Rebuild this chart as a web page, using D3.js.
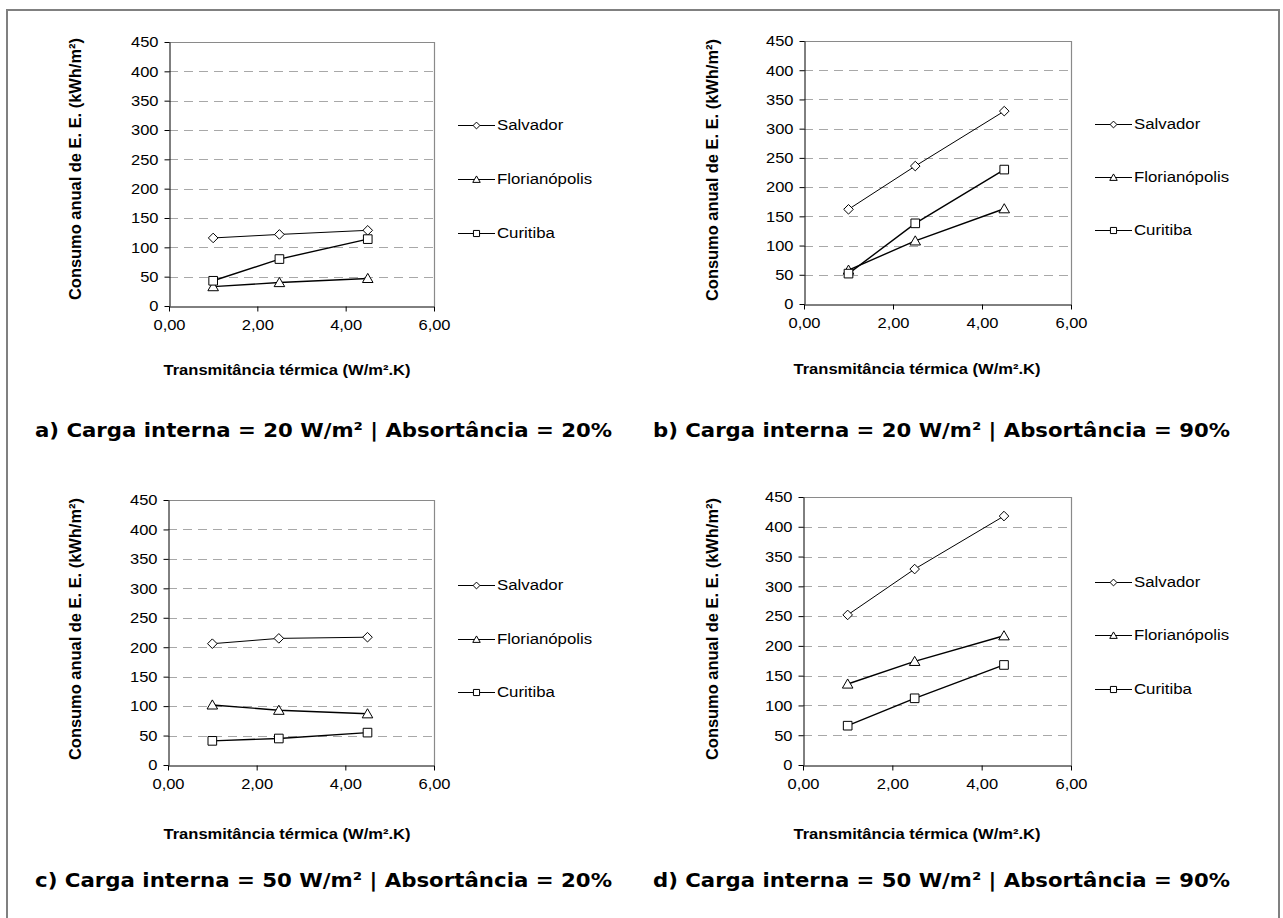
<!DOCTYPE html>
<html>
<head>
<meta charset="utf-8">
<script src="https://cdn.jsdelivr.net/npm/d3@7"></script>
<style>
  body { margin: 0; background: #fff; }
  svg { display: block; }
</style>
</head>
<body>
<svg id="fig" width="1283" height="918"></svg>
<script>
// ---- Data -------------------------------------------------------------
const transmitancia = [1.0, 2.5, 4.5];            // W/m².K
const cidades = ["Salvador", "Florianópolis", "Curitiba"];
const xTickValues = [0, 2, 4, 6];
const yTickValues = [0, 50, 100, 150, 200, 250, 300, 350, 400, 450];

// a) Carga interna = 20 W/m², absortância = 20%
const salvadorA      = [116, 122, 129];
const florianopolisA = [33, 40, 47];
const curitibaA      = [43, 80, 114];
// b) Carga interna = 20 W/m², absortância = 90%
const salvadorB      = [162, 236, 330];
const florianopolisB = [58, 108, 163];
const curitibaB      = [52, 138, 230];
// c) Carga interna = 50 W/m², absortância = 20%
const salvadorC      = [206, 215, 217];
const florianopolisC = [102, 93, 87];
const curitibaC      = [41, 45, 55];
// d) Carga interna = 50 W/m², absortância = 90%
const salvadorD      = [252, 329, 418];
const florianopolisD = [136, 174, 217];
const curitibaD      = [66, 112, 168];

const legendas = [
  "a) Carga interna = 20 W/m² | Absortância = 20%",
  "b) Carga interna = 20 W/m² | Absortância = 90%",
  "c) Carga interna = 50 W/m² | Absortância = 20%",
  "d) Carga interna = 50 W/m² | Absortância = 90%"
];
const tituloY = "Consumo anual de E. E. (kWh/m²)";
const tituloX = "Transmitância térmica (W/m².K)";

// ---- Layout of the four panels ----------------------------------------
const panels = [
  { series: [salvadorA, florianopolisA, curitibaA], caption: legendas[0],
    left: 169, right: 434, bottom: 306, top: 42,
    legX: 458, legY: [125, 179, 233], yTitleX: 75, yTitleY: 169,
    xTitleX: 287, xTitleY: 375, capX: 35, capY: 437 },
  { series: [salvadorB, florianopolisB, curitibaB], caption: legendas[1],
    left: 804, right: 1071, bottom: 304, top: 41,
    legX: 1095, legY: [124, 177, 230], yTitleX: 712, yTitleY: 170,
    xTitleX: 917, xTitleY: 374, capX: 653, capY: 437 },
  { series: [salvadorC, florianopolisC, curitibaC], caption: legendas[2],
    left: 168, right: 434, bottom: 765, top: 500,
    legX: 458, legY: [585, 639, 692], yTitleX: 75, yTitleY: 629,
    xTitleX: 287, xTitleY: 839, capX: 35, capY: 887 },
  { series: [salvadorD, florianopolisD, curitibaD], caption: legendas[3],
    left: 803, right: 1071, bottom: 765, top: 497,
    legX: 1095, legY: [582, 635, 689], yTitleX: 712, yTitleY: 629,
    xTitleX: 917, xTitleY: 839, capX: 653, capY: 887 }
];

// marker shapes per city (diamond, triangle, square)
function markerPath(kind, r) {
  if (kind === 0) return `M0,${-r}L${r},0L0,${r}L${-r},0Z`;
  if (kind === 1) return `M0,${-r * 1.05}L${r * 1.1},${r * 0.85}L${-r * 1.1},${r * 0.85}Z`;
  const s = r * 0.9;
  return `M${-s},${-s}H${s}V${s}H${-s}Z`;
}
const lineWidths = [1, 1.4, 1.4];

const svg = d3.select("#fig");
const sansFont = "'Liberation Sans', Arial, Helvetica, sans-serif";

// outer frame
svg.append("path")
  .attr("d", "M7,930V10H1279V930")
  .attr("fill", "none")
  .attr("stroke", "#808080")
  .attr("stroke-width", 2);

const fmtX = v => d3.format(".2f")(v).replace(".", ",");

panels.forEach(p => {
  const x = d3.scaleLinear().domain([0, 6]).range([p.left, p.right]);
  const y = d3.scaleLinear().domain([0, 450]).range([p.bottom, p.top]);
  const g = svg.append("g");

  // dashed horizontal gridlines
  g.append("g").selectAll("line")
    .data(yTickValues.filter(v => v > 0 && v < 450))
    .join("line")
    .attr("x1", p.left).attr("x2", p.right)
    .attr("y1", d => Math.round(y(d)) + 0.5).attr("y2", d => Math.round(y(d)) + 0.5)
    .attr("stroke", "#a8a8a8")
    .attr("stroke-width", 1)
    .attr("stroke-dasharray", "9,6");

  // plot area frame (top and right)
  g.append("path")
    .attr("d", `M${p.left},${Math.round(y(450)) + 0.5}H${Math.round(p.right) + 0.5}V${p.bottom}`)
    .attr("fill", "none")
    .attr("stroke", "#8a8a8a")
    .attr("stroke-width", 1.2);

  // axes
  const xAxis = d3.axisBottom(x).tickValues(xTickValues).tickFormat(fmtX)
    .tickSize(5).tickPadding(8).tickSizeOuter(0);
  const yAxis = d3.axisLeft(y).tickValues(yTickValues)
    .tickSize(5).tickPadding(5).tickSizeOuter(0);

  const gx = g.append("g").attr("transform", `translate(0,${Math.round(p.bottom) + 0.5})`).call(xAxis);
  const gy = g.append("g").attr("transform", `translate(${Math.round(p.left) + 0.5},0)`).call(yAxis);
  [gx, gy].forEach(ax => {
    ax.select(".domain").attr("stroke", "#000");
    ax.selectAll(".tick line").attr("stroke", "#000");
    ax.selectAll(".tick text")
      .attr("fill", "#000")
      .style("font-family", sansFont)
      .style("font-size", "15px")
      .attr("transform", "scale(1.1,1)");
  });

  // series lines + markers
  p.series.forEach((vals, k) => {
    const pts = transmitancia.map((t, i) => [x(t), y(vals[i])]);
    g.append("path")
      .attr("d", d3.line()(pts))
      .attr("fill", "none")
      .attr("stroke", "#000")
      .attr("stroke-width", lineWidths[k]);
    g.append("g").selectAll("path")
      .data(pts)
      .join("path")
      .attr("transform", d => `translate(${d[0]},${d[1]})`)
      .attr("d", markerPath(k, 4.8))
      .attr("fill", "#fff")
      .attr("stroke", "#000")
      .attr("stroke-width", 1);
  });

  // legend
  cidades.forEach((nome, k) => {
    const ly = p.legY[k];
    const lg = g.append("g").attr("transform", `translate(${p.legX},${ly})`);
    lg.append("line").attr("x1", 0).attr("x2", 37).attr("y1", 0.5).attr("y2", 0.5)
      .attr("stroke", "#000").attr("stroke-width", 1);
    lg.append("path").attr("transform", "translate(18.5,0.5)")
      .attr("d", markerPath(k, 3.4))
      .attr("fill", "#fff").attr("stroke", "#000").attr("stroke-width", 1);
    lg.append("text")
      .attr("transform", "translate(39,0) scale(1.12,1)")
      .attr("dy", "0.36em")
      .style("font-family", sansFont)
      .style("font-size", "15px")
      .attr("fill", "#000")
      .text(nome);
  });

  // axis titles
  g.append("text")
    .attr("transform", `translate(${p.yTitleX},${p.yTitleY}) rotate(-90)`)
    .attr("text-anchor", "middle")
    .attr("dy", "0.36em")
    .attr("textLength", 262)
    .attr("lengthAdjust", "spacingAndGlyphs")
    .style("font-family", sansFont)
    .style("font-size", "16.5px")
    .style("font-weight", "bold")
    .text(tituloY);

  g.append("text")
    .attr("x", p.xTitleX).attr("y", p.xTitleY)
    .attr("text-anchor", "middle")
    .attr("textLength", 247)
    .attr("lengthAdjust", "spacingAndGlyphs")
    .style("font-family", sansFont)
    .style("font-size", "15px")
    .style("font-weight", "bold")
    .text(tituloX);

  // panel caption
  g.append("text")
    .attr("x", p.capX).attr("y", p.capY)
    .attr("textLength", 577)
    .attr("lengthAdjust", "spacingAndGlyphs")
    .style("font-family", "'DejaVu Sans', Verdana, sans-serif")
    .style("font-size", "20px")
    .style("font-weight", "bold")
    .text(p.caption);
});
</script>
</body>
</html>
